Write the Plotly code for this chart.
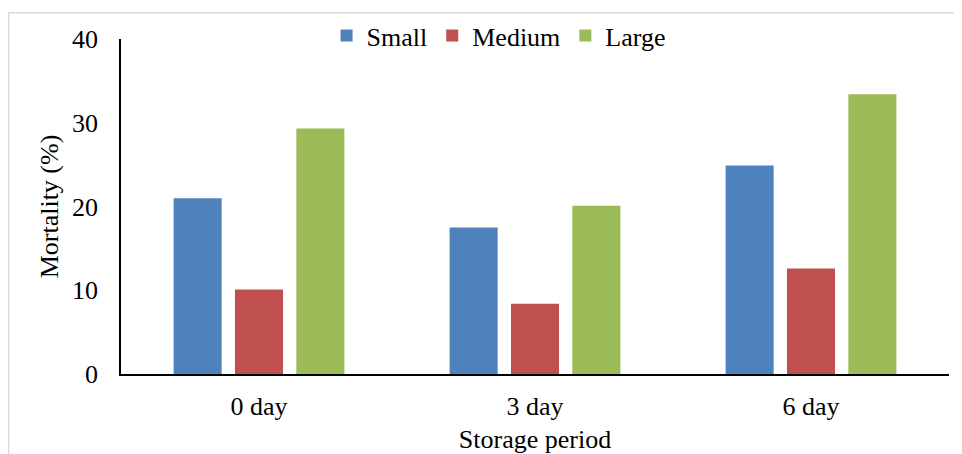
import plotly.graph_objects as go

categories = ["0 day", "3 day", "6 day"]
small = [21.0, 17.5, 24.9]
medium = [10.1, 8.4, 12.6]
large = [29.3, 20.1, 33.4]
y_ticks = [0, 10, 20, 30, 40]

FONT = "Liberation Serif, Times New Roman, serif"

fig = go.Figure()
for name, vals, col in [("Small", small, "#4F81BD"),
                        ("Medium", medium, "#C0504D"),
                        ("Large", large, "#9BBB59")]:
    fig.add_trace(go.Bar(x=categories, y=vals, name=name,
                         marker=dict(color=col, line=dict(width=0))))

# page body has an 8px margin, so the figure is 8px smaller than the window
W, H = 954, 446
L, R, T, B = 113, 13, 31, 80
pw, ph = W - L - R, H - T - B

fig.update_layout(
    width=W, height=H,
    margin=dict(l=L, r=R, t=T, b=B, autoexpand=False),
    paper_bgcolor="white", plot_bgcolor="white",
    barmode="group", bargap=0.333, bargroupgap=0.217,
    font=dict(family=FONT, size=26, color="black"),
    legend=dict(orientation="h", x=0.456, xanchor="center", y=1.01, yanchor="middle",
                font=dict(family=FONT, size=26, color="black"), itemwidth=30,
                traceorder="normal", bgcolor="rgba(0,0,0,0)"),
    xaxis=dict(showline=True, linecolor="black", linewidth=1.5, showgrid=False,
               ticks="", ticklabelstandoff=8, automargin=False,
               tickfont=dict(family=FONT, size=26),
               title=dict(text="Storage period", standoff=12,
                          font=dict(family=FONT, size=26))),
    yaxis=dict(range=[0, 40], tickvals=y_ticks, showline=True, linecolor="black",
               linewidth=1.5, showgrid=False, zeroline=False, ticks="",
               ticklabelstandoff=16, automargin=False,
               tickfont=dict(family=FONT, size=26),
               title=dict(text="Mortality (%)", standoff=6,
                          font=dict(family=FONT, size=26))),
)

# light gray chart-area border
x0 = (0.5 - L) / pw
y1 = (H - B - 4.7) / ph
fig.add_shape(type="rect", xref="paper", yref="paper", x0=x0, x1=1.2, y0=-0.5, y1=y1,
              line=dict(color="#d9d9d9", width=1.5), fillcolor="rgba(0,0,0,0)", layer="below")

fig.write_html("out.html")
